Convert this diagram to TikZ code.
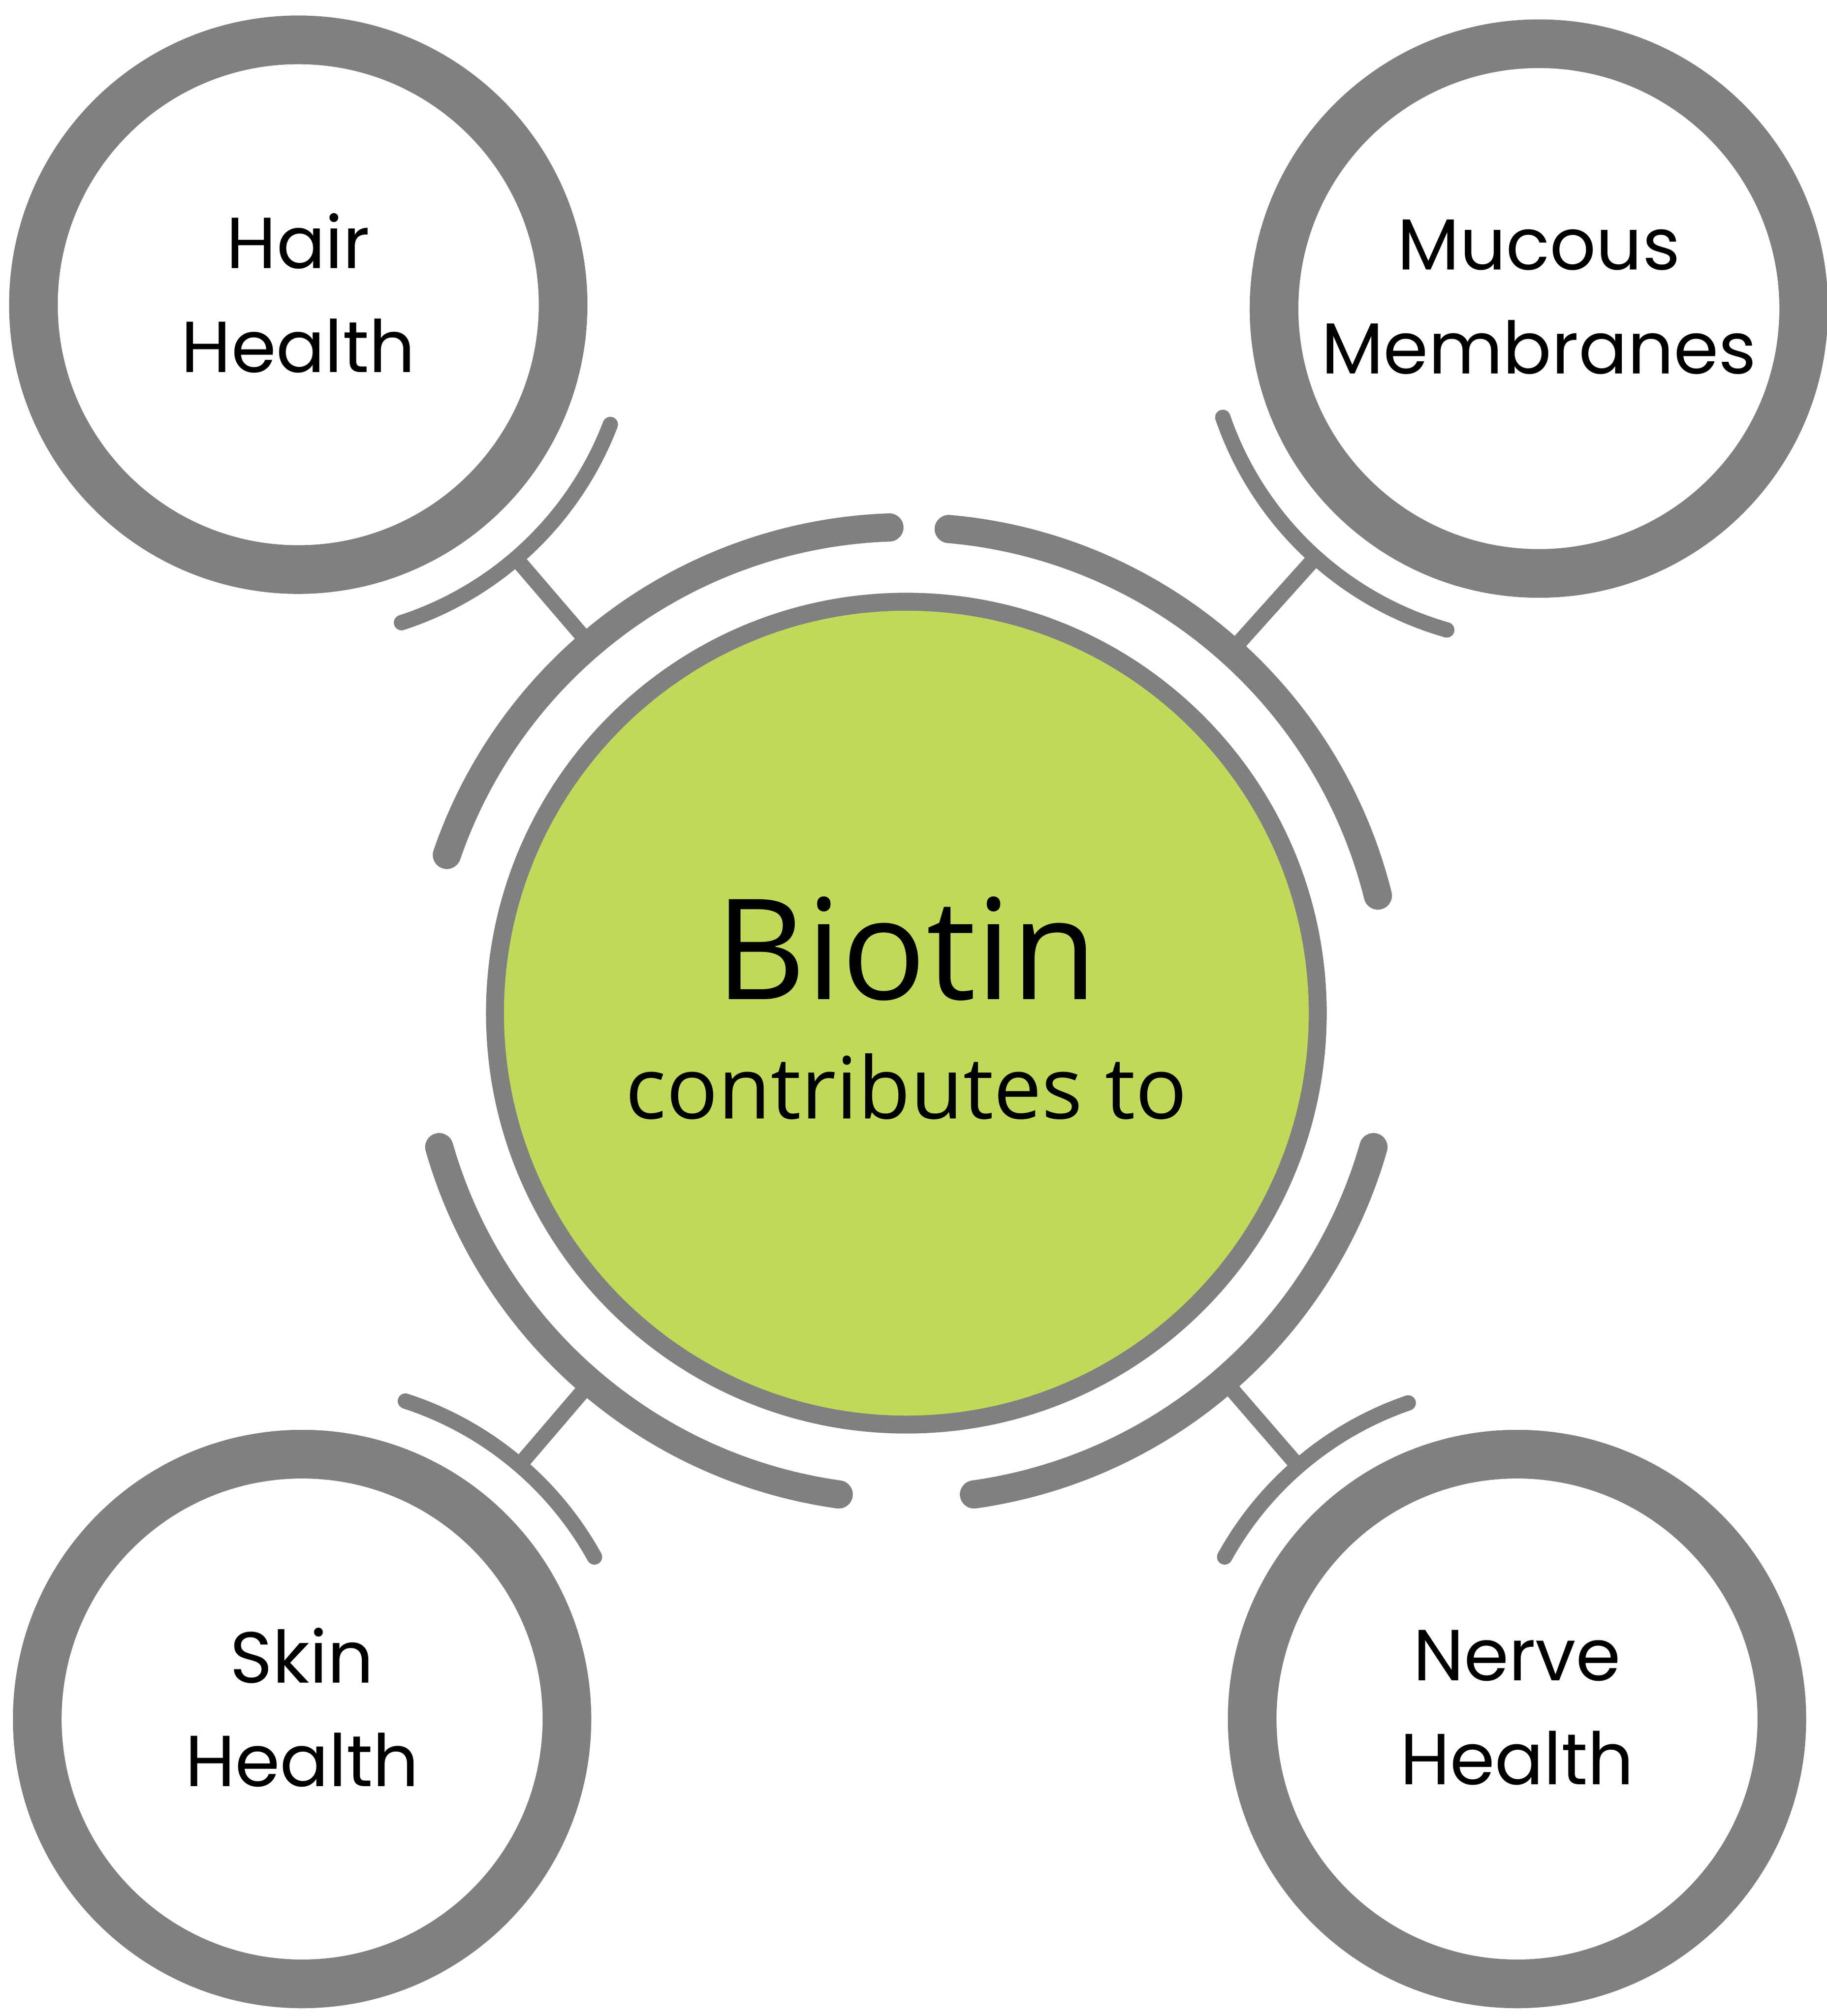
\documentclass[tikz,border=0pt]{standalone}
\usepackage{fontspec}
\setmainfont{Poppins}
\newfontfamily\bfont{Open Sans}
\usetikzlibrary{calc}
\definecolor{rg}{HTML}{808080}
\definecolor{lime}{HTML}{BFD95A}
\begin{document}
\begin{tikzpicture}[x=0.02cm,y=-0.02cm,
  ring/.style={draw=rg,line width=38*0.567pt,fill=white},
  bigarc/.style={draw=rg,line width=22*0.567pt,line cap=round},
  smallarc/.style={draw=rg,line width=12*0.567pt,line cap=round},
  link/.style={draw=rg,line width=12*0.567pt},
  lbl/.style={font=\fontsize{32}{46}\selectfont,align=center,text=black}]
\useasboundingbox (0,0) rectangle (1421,1568);
\coordinate (B) at (705,788);
\node[circle,draw=rg,line width=14*0.567pt,fill=lime,minimum size=640*0.02cm,inner sep=0] (bio) at (B) {};
\node[font=\bfont\fontsize{62}{70}\selectfont] at (705,738) {Biotin};
\node[font=\bfont\fontsize{38}{48}\selectfont] at (705,845) {contributes to};
\foreach \a/\b in {92/161, 85/14, 196/262, 278/344}
  \draw[bigarc] ($(B)+({cos(\a)*378},{-sin(\a)*378})$) arc[start angle=-\a,end angle=-\b,radius=378];
\foreach \n/\x/\y/\a/\b/\t in {hair/232/237/-21/-72/{Hair\\Health},muc/1197/240/199/254/{Mucous\\Membranes},skin/235/1337/72/29/{Skin\\Health},nerve/1180/1337/109/151/{Nerve\\Health}}{
  \coordinate (\n) at (\x,\y);
  \draw[link] ($(\n)!260*0.02cm!(B)$) -- ($(B)!368*0.02cm!(\n)$);
  \draw[smallarc] ($(\n)+({cos(\a)*260},{-sin(\a)*260})$) arc[start angle=-\a,end angle=-\b,radius=260];
  \node[circle,ring,minimum size=412*0.02cm,inner sep=0] (\n c) at (\n) {};
  \node[lbl] at ($(\n)+(0,-9)$) {\t};
}
\end{tikzpicture}
\end{document}
